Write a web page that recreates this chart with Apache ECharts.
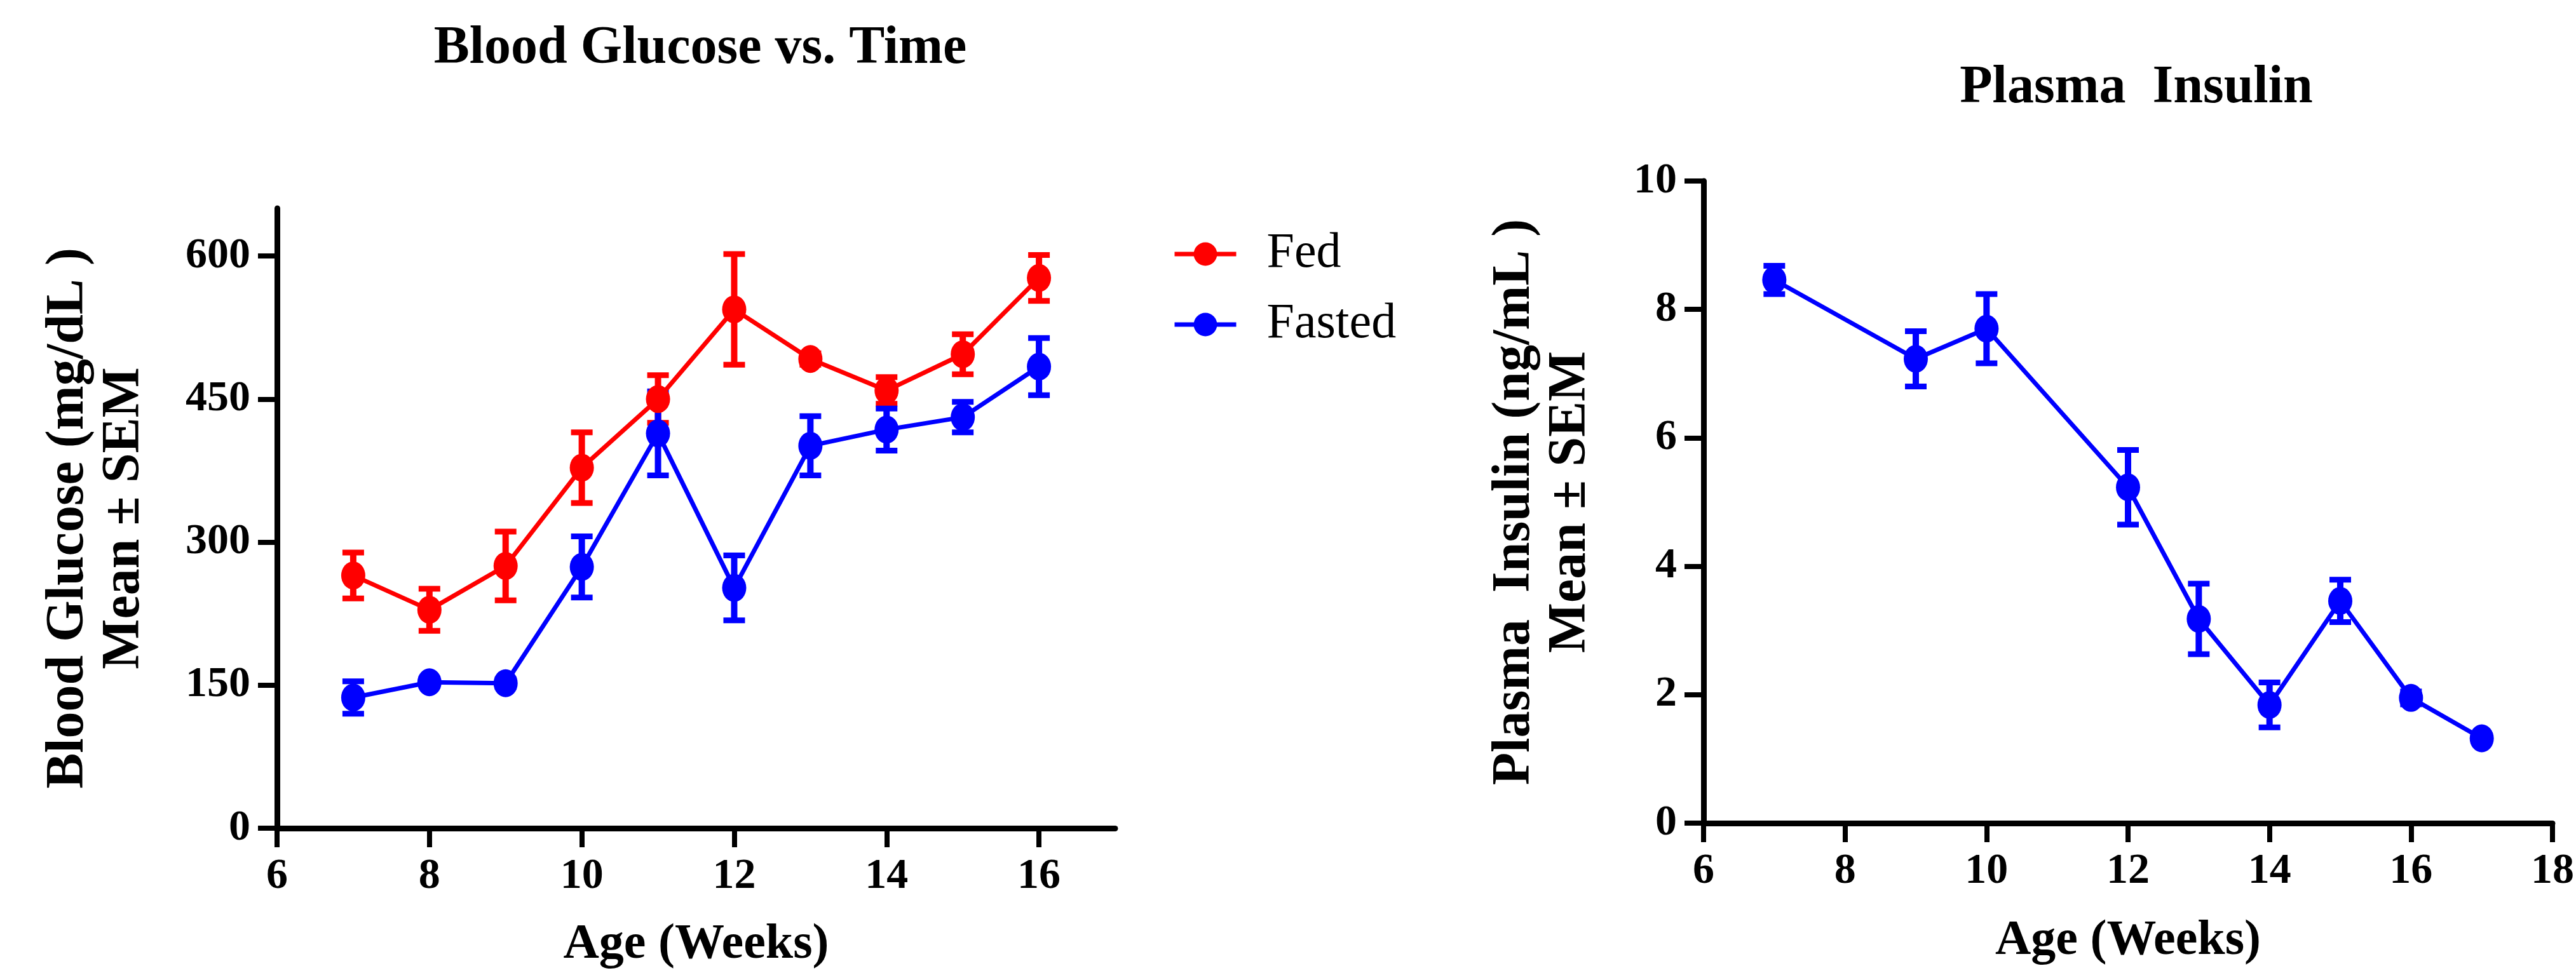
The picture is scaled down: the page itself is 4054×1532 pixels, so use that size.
<!DOCTYPE html>
<html>
<head>
<meta charset="utf-8">
<script src="https://cdn.jsdelivr.net/npm/echarts@6.0.0/dist/echarts.min.js"></script>
<style>
  html, body { margin: 0; padding: 0; background: #fff; }
  #chart { width: 4054px; height: 1532px; }
</style>
</head>
<body>
<div id="chart"></div>
<script>
// blood glucose, weekly
var weeks = [7, 8, 9, 10, 11, 12, 13, 14, 15, 16];
var fedMean = [265, 229, 275, 378, 450, 544, 492, 459, 497, 577];
var fedSem = [24, 22, 36, 37, 25, 58, 6, 14, 21, 24];
var fastedMean = [137, 153, 152, 274, 414, 252, 401, 418, 431, 484];
var fastedSem = [17, 4, 4, 32, 44, 34, 31, 22, 16, 30];

// plasma insulin
var insulinWeeks = [7, 9, 10, 12, 13, 14, 15, 16, 17];
var insulinMean = [8.46, 7.23, 7.70, 5.23, 3.18, 1.84, 3.46, 1.95, 1.32];
var insulinSem = [0.22, 0.43, 0.54, 0.58, 0.55, 0.35, 0.33, 0.1, 0.05];

// tick labels
var glucoseTicks = [0, 150, 300, 450, 600];
var ageTicksLeft = [6, 8, 10, 12, 14, 16];

var RED = '#ff0000', BLUE = '#0000ff';
var SERIF = "'Liberation Serif', 'Times New Roman', serif";

function pairs(xs, ys) {
    return xs.map(function (x, i) { return [x, ys[i]]; });
}
function ranges(xs, ys, es) {
    return xs.map(function (x, i) { return [x, ys[i] - es[i], ys[i] + es[i]]; });
}

// error bar with caps
function errorBars(color) {
    return function (params, api) {
        var x = api.value(0);
        var lo = api.coord([x, api.value(1)]);
        var hi = api.coord([x, api.value(2)]);
        var hw = 17;
        var cap = { stroke: color, lineWidth: 9 };
        return {
            type: 'group',
            children: [
                { type: 'line', shape: { x1: lo[0], y1: lo[1], x2: hi[0], y2: hi[1] }, style: { stroke: color, lineWidth: 10 } },
                { type: 'line', shape: { x1: hi[0] - hw, y1: hi[1], x2: hi[0] + hw, y2: hi[1] }, style: cap },
                { type: 'line', shape: { x1: lo[0] - hw, y1: lo[1], x2: lo[0] + hw, y2: lo[1] }, style: cap }
            ]
        };
    };
}

var axisLineStyle = { color: '#000', width: 9 };
var tickStyle = { show: true, length: 30, lineStyle: { color: '#000', width: 8 } };
var labelStyle = { color: '#000', fontFamily: SERIF, fontWeight: 'bold', fontSize: 68, margin: 42 };
var nameStyle = { color: '#000', fontFamily: SERIF, fontWeight: 'bold', fontSize: 78 };
var yNameStyle = { color: '#000', fontFamily: SERIF, fontWeight: 'bold', fontSize: 84, lineHeight: 88 };

var myChart = echarts.init(document.getElementById('chart'), null, { renderer: 'canvas' });

var option = {
    animation: false,
    backgroundColor: '#fff',
    title: [
        { text: 'Blood Glucose vs. Time', left: 1097, top: 30, textAlign: 'center',
          textStyle: { fontFamily: SERIF, fontWeight: 'bold', fontSize: 84, color: '#000' } },
        { text: 'Plasma  Insulin', left: 3357, top: 92, textAlign: 'center',
          textStyle: { fontFamily: SERIF, fontWeight: 'bold', fontSize: 84, color: '#000' } }
    ],
    legend: {
        data: ['Fed', 'Fasted'],
        orient: 'vertical',
        left: 1840,
        top: 356,
        itemWidth: 97,
        itemHeight: 46,
        itemGap: 33,
        lineStyle: { width: 7 },
        textStyle: { fontFamily: SERIF, fontSize: 78, color: '#000', padding: [0, 0, 0, 43] }
    },
    grid: [
        { left: 436, top: 328, width: 1319, height: 977 },
        { left: 2681, top: 285, width: 1358, height: 1011 }
    ],
    xAxis: [
        {
            type: 'value', gridIndex: 0, min: 6, max: 17,
            name: 'Age (Weeks)', nameLocation: 'middle', nameGap: 145, nameTextStyle: nameStyle,
            axisLine: { lineStyle: axisLineStyle },
            axisTick: Object.assign({ customValues: ageTicksLeft }, tickStyle),
            axisLabel: Object.assign({ customValues: ageTicksLeft }, labelStyle),
            splitLine: { show: false }
        },
        {
            type: 'value', gridIndex: 1, min: 6, max: 18, interval: 2,
            name: 'Age (Weeks)', nameLocation: 'middle', nameGap: 147, nameTextStyle: nameStyle,
            axisLine: { lineStyle: axisLineStyle },
            axisTick: tickStyle,
            axisLabel: labelStyle,
            splitLine: { show: false }
        }
    ],
    yAxis: [
        {
            type: 'value', gridIndex: 0, min: 0, max: 650,
            name: 'Blood Glucose (mg/dL )\nMean \u00b1 SEM', nameLocation: 'middle', nameGap: 196,
            nameTextStyle: yNameStyle,
            axisLine: { show: true, lineStyle: axisLineStyle },
            axisTick: Object.assign({ customValues: glucoseTicks }, tickStyle),
            axisLabel: Object.assign({ customValues: glucoseTicks }, labelStyle),
            splitLine: { show: false }
        },
        {
            type: 'value', gridIndex: 1, min: 0, max: 10, interval: 2,
            name: 'Plasma  Insulin (ng/mL )\nMean \u00b1 SEM', nameLocation: 'middle', nameGap: 165,
            nameTextStyle: yNameStyle,
            axisLine: { show: true, lineStyle: axisLineStyle },
            axisTick: tickStyle,
            axisLabel: labelStyle,
            splitLine: { show: false }
        }
    ],
    series: [
        {
            name: 'Fed', type: 'line', xAxisIndex: 0, yAxisIndex: 0,
            data: pairs(weeks, fedMean),
            symbol: 'circle', symbolSize: [38, 44],
            itemStyle: { color: RED }, lineStyle: { color: RED, width: 7 }
        },
        {
            name: 'Fed err', type: 'custom', xAxisIndex: 0, yAxisIndex: 0,
            data: ranges(weeks, fedMean, fedSem),
            encode: { x: 0, y: [1, 2] },
            renderItem: errorBars(RED)
        },
        {
            name: 'Fasted', type: 'line', xAxisIndex: 0, yAxisIndex: 0,
            data: pairs(weeks, fastedMean),
            symbol: 'circle', symbolSize: [38, 44],
            itemStyle: { color: BLUE }, lineStyle: { color: BLUE, width: 7 }
        },
        {
            name: 'Fasted err', type: 'custom', xAxisIndex: 0, yAxisIndex: 0,
            data: ranges(weeks, fastedMean, fastedSem),
            encode: { x: 0, y: [1, 2] },
            renderItem: errorBars(BLUE)
        },
        {
            name: 'Insulin', type: 'line', xAxisIndex: 1, yAxisIndex: 1,
            data: pairs(insulinWeeks, insulinMean),
            symbol: 'circle', symbolSize: [38, 44],
            itemStyle: { color: BLUE }, lineStyle: { color: BLUE, width: 7 }
        },
        {
            name: 'Insulin err', type: 'custom', xAxisIndex: 1, yAxisIndex: 1,
            data: ranges(insulinWeeks, insulinMean, insulinSem),
            encode: { x: 0, y: [1, 2] },
            renderItem: errorBars(BLUE)
        }
    ]
};

myChart.setOption(option);
window.addEventListener('resize', function () {
    myChart.resize();
});
</script>
</body>
</html>
